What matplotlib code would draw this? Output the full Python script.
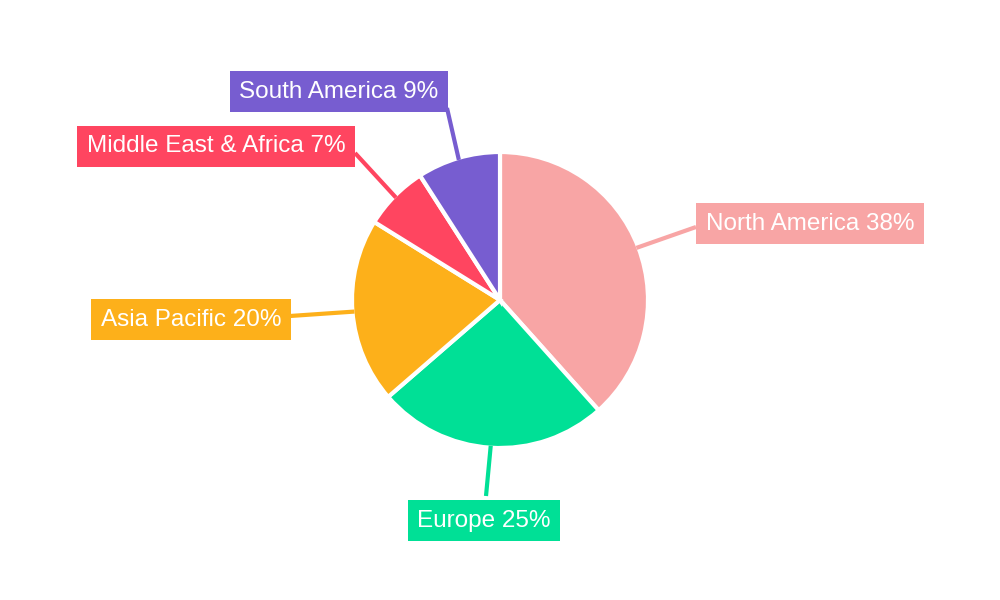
import numpy as np
import matplotlib.pyplot as plt

regions = ["North America", "Europe", "Asia Pacific", "Middle East & Africa", "South America"]
shares = [38, 25, 20, 7, 9]
colors = ["#F8A5A5", "#00E096", "#FDB01A", "#FF4560", "#775DD0"]

# label box centres (pixel coords, y from top) and where the leader line meets the box
label_pos = [(810, 221), (484, 518), (191, 317), (216, 144), (339, 89)]
line_end = [(696, 227), (486, 496), (290, 316), (355, 153), (447, 108)]

cx, cy, r = 500, 300, 148

fig = plt.figure(figsize=(10, 6), dpi=100)
ax = fig.add_axes([0, 0, 1, 1])

wedges, _ = ax.pie(shares, colors=colors, startangle=90, counterclock=False,
                   center=(cx, 600 - cy), radius=r,
                   wedgeprops=dict(edgecolor="white", linewidth=3))
ax.set_xlim(0, 1000)
ax.set_ylim(0, 600)
ax.set_aspect("equal")
ax.axis("off")

for w, name, val, col, (tx, ty), (ex, ey) in zip(wedges, regions, shares, colors, label_pos, line_end):
    ang = np.deg2rad((w.theta1 + w.theta2) / 2)
    sx = cx + (r - 2) * np.cos(ang)
    sy = (600 - cy) + (r - 2) * np.sin(ang)
    ax.plot([sx, ex], [sy, 600 - ey], color=col, lw=3, solid_capstyle="butt", zorder=1)
    ax.text(tx, 600 - ty, f"{name} {val}%", ha="center", va="center_baseline", fontsize=17.5,
            color="white", family="Liberation Sans",
            bbox=dict(boxstyle="square,pad=0.4", fc=col, ec="none"), zorder=3)

fig.savefig("out.png", dpi=100)
